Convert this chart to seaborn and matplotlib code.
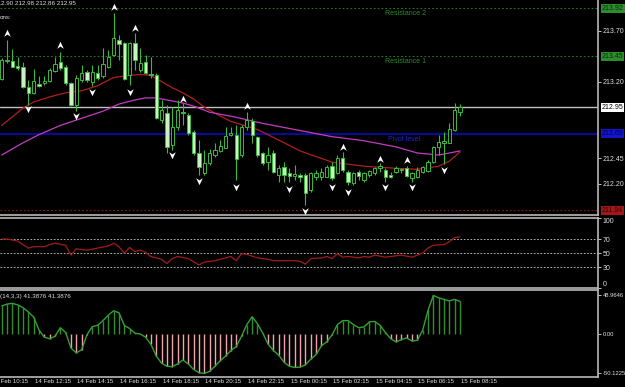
import matplotlib
matplotlib.use("Agg")
import matplotlib.pyplot as plt
from matplotlib.path import Path
import numpy as np
import seaborn as sns

# 15 min candles, 14 Feb 10:45 -> 15 Feb 08:15 (bar index 0..86)
opens = [213.23, 213.40, 213.40, 213.35, 213.34, 213.15, 213.09, 213.18, 213.19, 213.21,
         213.30, 213.39, 213.34, 213.19, 212.97, 213.22, 213.29, 213.20, 213.28, 213.25,
         213.34, 213.46, 213.61, 213.58, 213.26, 213.58, 213.31, 213.39, 213.27, 213.26,
         212.82, 212.89, 212.58, 212.75, 212.90, 212.87, 212.71, 212.50, 212.30, 212.40,
         212.48, 212.52, 212.55, 212.68, 212.68, 212.48, 212.75, 212.81, 212.66, 212.50,
         212.41, 212.50, 212.28, 212.36, 212.30, 212.27, 212.28, 212.28, 212.14, 212.26,
         212.26, 212.26, 212.37, 212.30, 212.45, 212.31, 212.21, 212.31, 212.24, 212.28,
         212.30, 212.35, 212.33, 212.28, 212.31, 212.33, 212.35, 212.25, 212.26, 212.31,
         212.32, 212.41, 212.56, 212.60, 212.60, 212.73, 212.90]
highs = [213.43, 213.61, 213.52, 213.44, 213.39, 213.22, 213.32, 213.25, 213.25, 213.33,
         213.44, 213.49, 213.36, 213.20, 213.26, 213.36, 213.31, 213.36, 213.36, 213.53,
         213.51, 213.87, 213.66, 213.59, 213.59, 213.68, 213.53, 213.46, 213.44, 213.28,
         213.02, 212.97, 212.95, 213.02, 212.99, 212.89, 212.73, 212.63, 212.53, 212.54,
         212.60, 212.63, 212.75, 212.75, 212.77, 212.77, 212.90, 212.84, 212.67, 212.51,
         212.56, 212.53, 212.38, 212.41, 212.35, 212.38, 212.30, 212.30, 212.31, 212.33,
         212.35, 212.38, 212.41, 212.48, 212.51, 212.33, 212.31, 212.33, 212.31, 212.33,
         212.36, 212.40, 212.35, 212.31, 212.37, 212.35, 212.37, 212.31, 212.36, 212.37,
         212.43, 212.57, 212.68, 212.71, 212.79, 212.99, 212.98]
lows = [213.22, 213.38, 213.34, 213.31, 213.14, 212.97, 213.08, 213.15, 213.17, 213.20,
        213.29, 213.31, 213.17, 212.96, 212.91, 213.20, 213.20, 213.16, 213.22, 213.24,
        213.33, 213.45, 213.41, 213.22, 213.17, 213.31, 213.29, 213.27, 213.24, 212.83,
        212.79, 212.50, 212.53, 212.73, 212.77, 212.68, 212.48, 212.28, 212.28, 212.38,
        212.46, 212.51, 212.55, 212.67, 212.24, 212.46, 212.73, 212.60, 212.46, 212.38,
        212.33, 212.30, 212.22, 212.22, 212.22, 212.24, 212.22, 211.99, 212.12, 212.24,
        212.24, 212.26, 212.24, 212.29, 212.31, 212.19, 212.19, 212.24, 212.22, 212.26,
        212.28, 212.31, 212.22, 212.25, 212.30, 212.30, 212.26, 212.22, 212.25, 212.30,
        212.31, 212.40, 212.48, 212.39, 212.60, 212.72, 212.86]
closes = [213.41, 213.41, 213.34, 213.33, 213.15, 213.09, 213.21, 213.16, 213.21, 213.31,
          213.37, 213.33, 213.19, 212.97, 213.24, 213.28, 213.22, 213.29, 213.24, 213.37,
          213.44, 213.63, 213.57, 213.23, 213.58, 213.41, 213.38, 213.28, 213.26, 212.84,
          212.92, 212.56, 212.75, 212.92, 212.89, 212.70, 212.50, 212.36, 212.40, 212.50,
          212.53, 212.57, 212.67, 212.70, 212.44, 212.75, 212.82, 212.68, 212.48, 212.40,
          212.48, 212.31, 212.35, 212.28, 212.27, 212.29, 212.26, 212.11, 212.30, 212.30,
          212.31, 212.36, 212.25, 212.45, 212.33, 212.22, 212.30, 212.27, 212.30, 212.32,
          212.35, 212.37, 212.26, 212.26, 212.35, 212.34, 212.27, 212.30, 212.33, 212.36,
          212.41, 212.56, 212.61, 212.62, 212.74, 212.92, 212.95]

# moving averages (red / magenta)
ma_red_idx = [0, 4, 6, 9, 12, 15, 18, 21, 24, 26, 28, 30, 32, 34, 36, 38, 40, 43, 48, 53,
              56, 62, 68, 74, 78, 82, 84, 86]
ma_red = [212.77, 212.94, 213.00, 213.05, 213.09, 213.11, 213.16, 213.24, 213.26, 213.27,
          213.26, 213.20, 213.14, 213.09, 213.03, 212.95, 212.89, 212.81, 212.73, 212.60,
          212.52, 212.41, 212.37, 212.35, 212.34, 212.37, 212.42, 212.51]
ma_mag_idx = [0, 4, 7, 11, 15, 19, 22, 25, 27, 29, 31, 34, 36, 39, 44, 49, 55, 62, 68, 74,
              78, 82, 86]
ma_mag = [212.48, 212.60, 212.68, 212.77, 212.84, 212.91, 212.98, 213.02, 213.04, 213.04,
          213.02, 212.99, 212.96, 212.90, 212.85, 212.79, 212.73, 212.66, 212.62, 212.56,
          212.50, 212.48, 212.52]

# fractal arrows
frac_up_idx = [1, 11, 21, 25, 34, 46, 64, 71, 76]
frac_up = [213.68, 213.56, 213.93, 213.73, 213.03, 212.96, 212.56, 212.44, 212.43]
frac_dn_idx = [5, 14, 17, 24, 32, 37, 44, 54, 57, 62, 65, 72, 77, 83]
frac_dn = [212.93, 212.86, 213.10, 213.10, 212.48, 212.23, 212.17, 212.15, 211.93, 212.17,
           212.12, 212.17, 212.17, 212.33]

resistance2 = 213.92
resistance1 = 213.45
pivot = 212.69
support = 211.94
last_price = 212.95
price_ticks = [213.70, 213.20, 212.45, 212.20]

# RSI
rsi_idx = [0, 1, 3, 5, 6, 8, 9, 10, 12, 13, 14, 16, 18, 20, 21, 22, 23, 24, 25, 26,
           27, 28, 30, 31, 32, 33, 35, 37, 38, 40, 43, 44, 45, 46, 48, 50, 51, 53, 55, 56,
           57, 58, 60, 61, 62, 63, 64, 65, 67, 68, 69, 70, 72, 73, 74, 75, 77, 78, 79, 80,
           81, 83, 84, 85, 86]
rsi_val = [70, 70, 67, 57, 59, 59, 62, 64, 61, 47, 56, 54, 57, 60, 64, 59, 50, 58, 52, 54,
           51, 45, 41, 35, 42, 45, 42, 33, 37, 39, 45, 39, 49, 48, 43, 41, 39, 39, 39, 38,
           34, 42, 43, 45, 42, 49, 44, 45, 43, 45, 44, 47, 44, 45, 46, 47, 44, 47, 50, 57,
           61, 62, 66, 72, 73]
rsi_levels = [30, 50, 70]

# oscillator histogram, one value per bar
osc_val = [35.5, 38, 39, 37, 33.5, 28, 21.5, 5, -4, -6,
           -3, 8, 2, -18, -24, -20, -1, 9.4, 11, 17,
           24, 29.5, 27, 11, 7, 1, 0, -4, -13, -28,
           -37, -41, -41.5, -38, -33, -38, -45, -49, -50.12, -47.5,
           -41, -34, -28, -21, -16, -3, 12, 22, 13, 1,
           -13, -21, -27, -36, -41, -42.5, -42, -39, -32, -26,
           -15, -10, -1, 12, 17, 17, 12, 8, 9, 15.5,
           16, 11, 2, -6, -10, -7, -5, -9, -8, 5,
           30, 48.96, 46, 44, 42, 44, 41.39]

date_idx = [-2, 6, 14, 22, 30, 38, 46, 54, 62, 70, 78, 86]
date_labels = ["14 Feb 10:15", "14 Feb 12:15", "14 Feb 14:15", "14 Feb 16:15",
               "14 Feb 18:15", "14 Feb 20:15", "14 Feb 22:15", "15 Feb 00:15",
               "15 Feb 02:15", "15 Feb 04:15", "15 Feb 06:15", "15 Feb 08:15"]

sns.set_style("dark", {"axes.facecolor": "black", "figure.facecolor": "black"})
plt.rcParams["font.family"] = ["Liberation Sans", "DejaVu Sans"]

GREEN = "#3cb83c"
BEAR = "#c8f2c0"
TXT = "#e0e0e0"
FRAME = "#b8b8b8"

fig = plt.figure(figsize=(6.25, 3.87), dpi=100)
W, H = 625.0, 387.0


def panel(top, bottom):
    return fig.add_axes([0, 1 - bottom / H, 598 / W, (bottom - top) / H])


ax1 = panel(0, 215)
ax2 = panel(218, 288)
ax3 = panel(290, 377)

for ax in (ax1, ax2, ax3):
    ax.set_facecolor("black")
    ax.grid(False)
    ax.set_xlim(-0.32, 111.9)
    ax.spines["left"].set_visible(False)
    for s in ("right", "top", "bottom"):
        ax.spines[s].set_color(FRAME)
        ax.spines[s].set_linewidth(1.2)
    ax.yaxis.tick_right()
    ax.tick_params(axis="y", colors=TXT, labelsize=5, length=2, pad=1.5, width=0.6)
ax1.spines["top"].set_visible(False)
ax1.set_xticks([])
ax2.set_xticks([])

# ---- price panel
ax1.set_ylim(211.892, 214.0)
idx = np.arange(len(closes))
o = np.array(opens)
c = np.array(closes)
bull = c >= o
ax1.vlines(idx, lows, highs, color=GREEN, lw=0.8, zorder=3)
ax1.bar(idx, np.maximum(np.abs(c - o), 0.006), bottom=np.minimum(o, c), width=0.62,
        color=np.where(bull, "black", BEAR), edgecolor=GREEN, linewidth=0.7, zorder=4)

sns.lineplot(x=ma_red_idx, y=ma_red, ax=ax1, color="#b0201c", lw=0.9, zorder=2)
sns.lineplot(x=ma_mag_idx, y=ma_mag, ax=ax1, color="#c23cc2", lw=0.9, zorder=2)

for lvl in (resistance2, resistance1):
    ax1.axhline(lvl, color="#1f7a1f", lw=0.8, ls=(0, (1.5, 2)), zorder=1)
ax1.axhline(support, color="#8b1a1a", lw=0.8, ls=(0, (1.5, 2)), zorder=1)
ax1.axhline(pivot, color="#0c0cc0", lw=1.2, zorder=1)
ax1.axhline(last_price, color="#c0c0c0", lw=1.0, zorder=1)

ax1.text(71.9, resistance2 - 0.02, "Resistance 2", color="#2e8b2e", fontsize=5, va="top")
ax1.text(71.9, resistance1 - 0.02, "Resistance 1", color="#2e8b2e", fontsize=5, va="top")
ax1.text(72.5, pivot - 0.02, "Pivot level", color="#2424d8", fontsize=5, va="top")

up_arrow = Path([(0, 1), (0.9, -0.9), (0, -0.3), (-0.9, -0.9), (0, 1)],
                [Path.MOVETO, Path.LINETO, Path.LINETO, Path.LINETO, Path.CLOSEPOLY])
dn_arrow = Path([(0, -1), (0.9, 0.9), (0, 0.3), (-0.9, 0.9), (0, -1)],
                [Path.MOVETO, Path.LINETO, Path.LINETO, Path.LINETO, Path.CLOSEPOLY])
ax1.scatter(frac_up_idx, frac_up, marker=up_arrow, s=28, color="white", lw=0, zorder=5)
ax1.scatter(frac_dn_idx, frac_dn, marker=dn_arrow, s=28, color="white", lw=0, zorder=5)

ax1.set_yticks(price_ticks, [f"{v:.2f}" for v in price_ticks])


def price_tag(y, text, face, fg):
    ax1.text(1.006, y, text, transform=ax1.get_yaxis_transform(), fontsize=5, color=fg,
             va="center", ha="left", clip_on=False,
             bbox=dict(boxstyle="square,pad=0.15", facecolor=face, edgecolor="none"))


price_tag(resistance2, "213.92", "#2e8b2e", "#0a2a0a")
price_tag(resistance1, "213.45", "#2e8b2e", "#0a2a0a")
price_tag(last_price, "212.95", "white", "black")
price_tag(pivot, "212.69", "#1414c8", "#000050")
price_tag(support, "211.94", "#a01818", "#3a0000")

ax1.text(-0.01, 0.997, "212.90 212.98 212.86 212.95", transform=ax1.transAxes,
         color=TXT, fontsize=4.5, va="top", ha="left")
ax1.text(0.0, 0.93, "ons:", transform=ax1.transAxes, color=TXT, fontsize=4.5, va="top")

# ---- RSI panel
ax2.set_ylim(0, 100)
for lvl in rsi_levels:
    ax2.axhline(lvl, color="#d0d0d0", lw=0.6, ls=(0, (2, 2)))
sns.lineplot(x=rsi_idx, y=rsi_val, ax=ax2, color="#a01c1c", lw=0.9)
ax2.set_yticks([0, 30, 50, 70, 100], ["0", "30", "50", "70", "100"])
labs = ax2.get_yticklabels()
labs[0].set_va("bottom")
labs[-1].set_va("top")

# ---- oscillator panel
ax3.set_ylim(-54.6, 55.9)
osc_idx = np.arange(len(osc_val))
osc_arr = np.array(osc_val)
ax3.vlines(osc_idx, 0, osc_arr, colors=np.where(osc_arr > 0, "#2f8f2f", "#f2a2aa"), lw=1.0)
sns.lineplot(x=osc_idx, y=osc_arr, ax=ax3, color="#35a035", lw=1.0)
ax3.set_yticks([48.9646, 0, -50.1225], ["48.9646", "0.00", "-50.1225"])
ax3.tick_params(axis="y", labelsize=4.2)
ax3.text(0.0, 0.95, "(14,3,3) 41.3876 41.3876", transform=ax3.transAxes, color=TXT,
         fontsize=4.5, va="top", ha="left")

ax3.set_xticks([d for d in date_idx if d >= 0])
ax3.set_xticklabels([])
ax3.tick_params(axis="x", colors=FRAME, length=3, width=0.6, direction="out")
for d, lab in zip(date_idx, date_labels):
    ax3.text(d + 0.2, -0.02, lab, transform=ax3.get_xaxis_transform(), va="top",
             ha="left", fontsize=4.4, color=TXT, clip_on=False)

for ax in (ax1, ax2, ax3):
    ax.set_xlabel("")
    ax.set_ylabel("")
fig.savefig("out.png", dpi=100, facecolor="black")
